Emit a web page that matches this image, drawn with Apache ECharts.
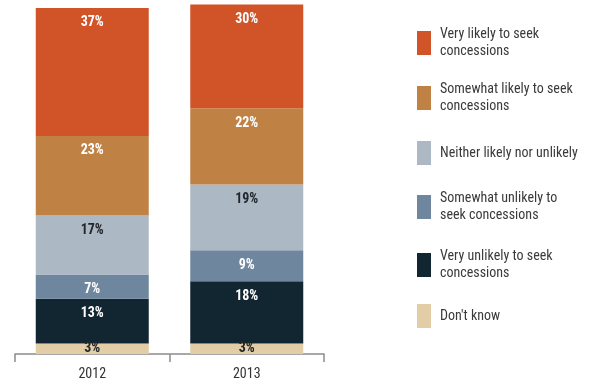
<!DOCTYPE html>
<html>
<head>
<meta charset="utf-8">
<script src="https://cdn.jsdelivr.net/npm/echarts@6/dist/echarts.min.js"></script>
<style>
  html, body { margin: 0; padding: 0; background: #fff; }
  #chart { width: 597px; height: 383px; }
</style>
</head>
<body>
<div id="chart"></div>
<script>
// Survey years on the x axis
const years = ['2012', '2013'];

// Response categories, listed from top of the stack to the bottom
const categories = [
  'Very likely to seek concessions',
  'Somewhat likely to seek concessions',
  'Neither likely nor unlikely',
  'Somewhat unlikely to seek concessions',
  'Very unlikely to seek concessions',
  "Don't know"
];

// Share of respondents (%) for each category, per year
const veryLikely       = [37, 30];
const somewhatLikely   = [23, 22];
const neither          = [17, 19];
const somewhatUnlikely = [7, 9];
const veryUnlikely     = [13, 18];
const dontKnow         = [3, 3];

const values = [veryLikely, somewhatLikely, neither, somewhatUnlikely, veryUnlikely, dontKnow];

// Legend captions (with line breaks)
const legendText = {
  'Very likely to seek concessions': 'Very likely to seek\nconcessions',
  'Somewhat likely to seek concessions': 'Somewhat likely to seek\nconcessions',
  'Neither likely nor unlikely': 'Neither likely nor unlikely',
  'Somewhat unlikely to seek concessions': 'Somewhat unlikely to\nseek concessions',
  'Very unlikely to seek concessions': 'Very unlikely to seek\nconcessions',
  "Don't know": "Don't know"
};

const colors = ['#D15428', '#C08244', '#ADB8C5', '#6E869E', '#122631', '#E2CDA6'];
const labelColors = ['#ffffff', '#ffffff', '#22272c', '#ffffff', '#ffffff', '#22272c'];

const FONT = '"Roboto Condensed", "Liberation Sans Narrow", sans-serif';

// Stack from the bottom up: reverse the top-down list
const series = [];
for (let i = categories.length - 1; i >= 0; i--) {
  const isSmall = i === categories.length - 1;
  series.push({
    name: categories[i],
    type: 'bar',
    stack: 'total',
    barWidth: 113,
    data: values[i],
    itemStyle: { color: colors[i] },
    emphasis: { disabled: true },
    label: {
      show: true,
      position: isSmall ? 'inside' : 'insideTop',
      distance: 8,
      formatter: '{c}%',
      color: labelColors[i],
      fontFamily: FONT,
      fontWeight: 'bold',
      fontSize: 14
    }
  });
}

// One legend block per category so the vertical spacing is even
const iconTops = [31, 86, 141, 195, 253, 304];
const legends = categories.map((name, i) => {
  const twoLine = legendText[name].indexOf('\n') >= 0;
  return {
    data: [{ name: name, icon: 'rect' }],
    left: 417,
    top: twoLine ? iconTops[i] - 5 : iconTops[i],
    padding: 0,
    orient: 'vertical',
    itemWidth: 14,
    itemHeight: 24,
    selectedMode: false,
    formatter: (n) => legendText[n],
    textStyle: {
      fontFamily: FONT,
      fontSize: 14,
      lineHeight: 17,
      color: '#3a3a3a',
      padding: [0, 0, 0, 4]
    }
  };
});

const chart = echarts.init(document.getElementById('chart'), null, { renderer: 'canvas' });
chart.setOption({
  animation: false,
  backgroundColor: '#ffffff',
  grid: { left: 15, right: 273, top: 4.5, bottom: 29 },
  legend: legends,
  xAxis: {
    type: 'category',
    data: years,
    boundaryGap: true,
    axisLine: { lineStyle: { color: '#8c8c8c', width: 1.5 } },
    axisTick: { show: true, length: 8, lineStyle: { color: '#8c8c8c', width: 1.5 } },
    axisLabel: { color: '#333333', fontFamily: FONT, fontSize: 14, margin: 13 }
  },
  yAxis: {
    type: 'value',
    min: 0,
    max: 101,
    show: false,
    splitLine: { show: false }
  },
  series: series
});
</script>
</body>
</html>
